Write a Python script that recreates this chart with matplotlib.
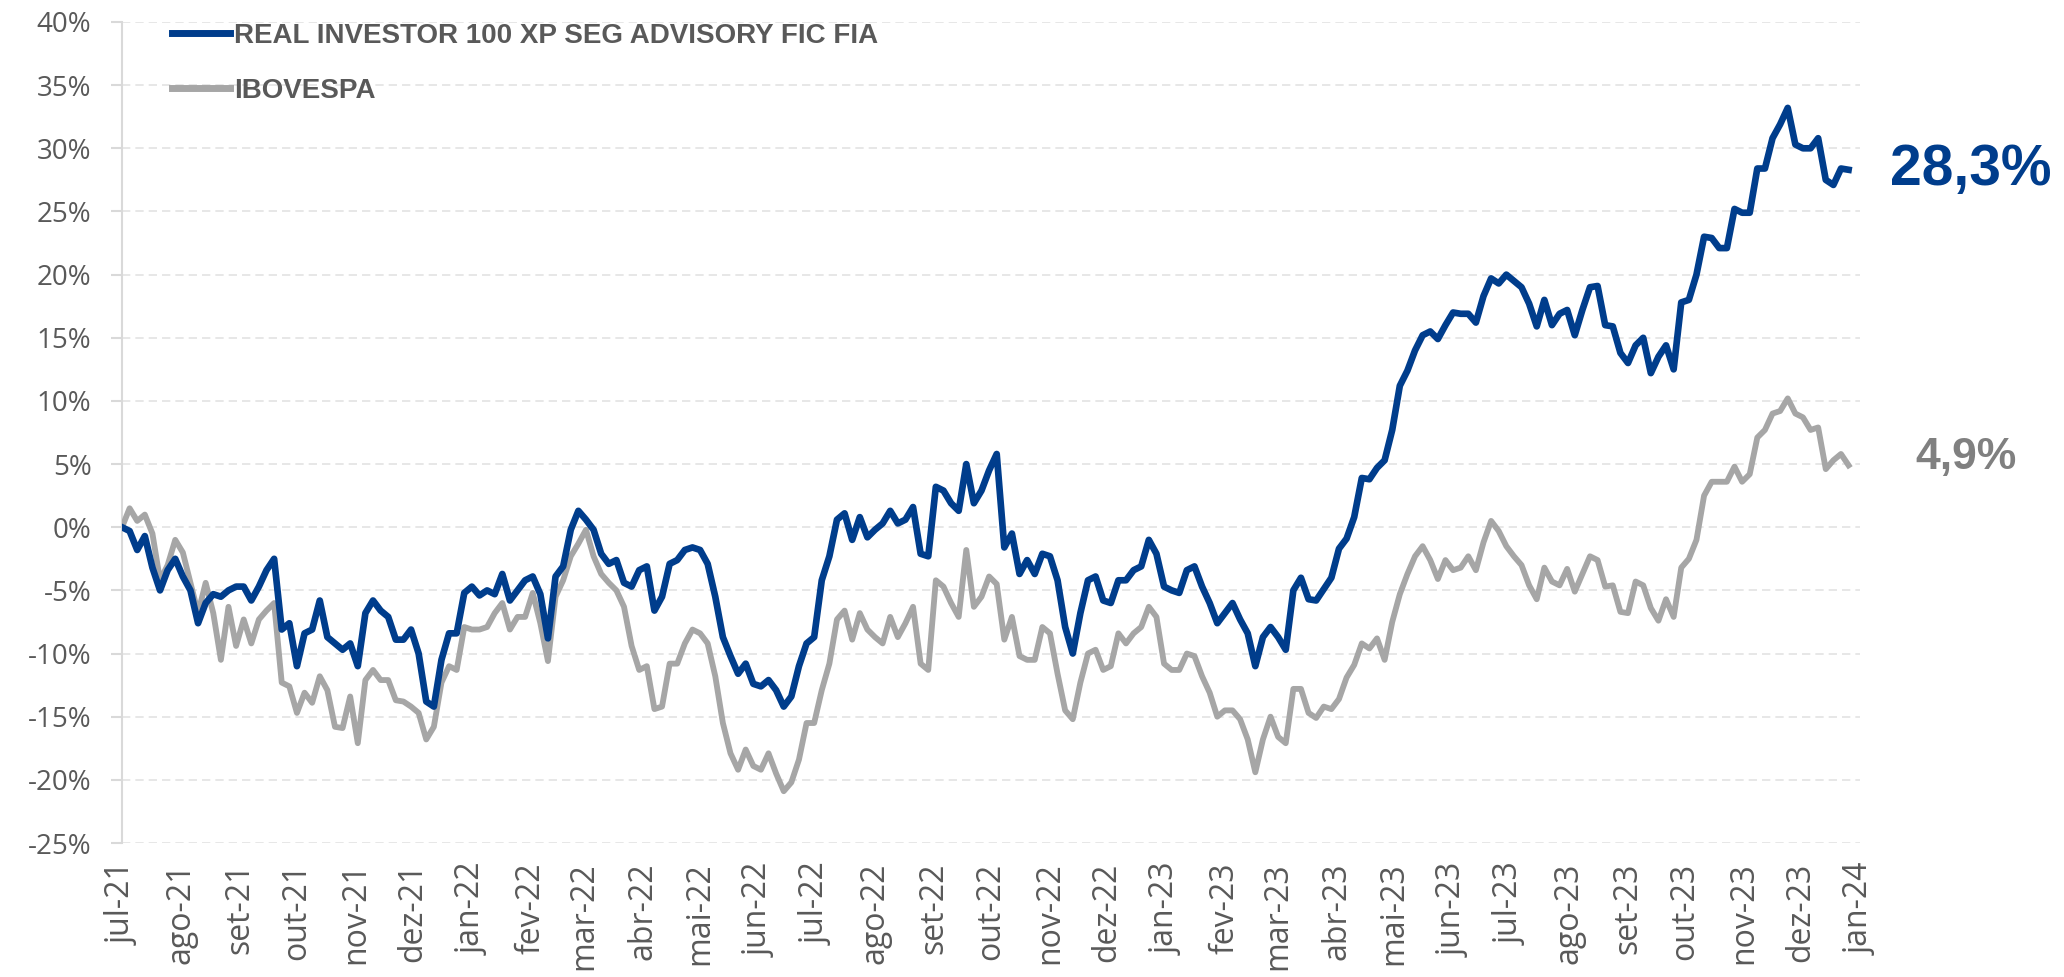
import pandas as pd
import matplotlib
matplotlib.use("Agg")
import matplotlib.pyplot as plt
from matplotlib.ticker import FuncFormatter

# returns, one point every 4 days from 01/07/2021 (in %)
fund = [0, -0.3, -1.8, -0.7, -3.2, -5, -3.4, -2.5, -3.9, -5,
        -7.6, -6, -5.3, -5.5, -5, -4.7, -4.7, -5.8, -4.7, -3.4,
        -2.5, -8.1, -7.6, -11, -8.4, -8.1, -5.8, -8.7, -9.2, -9.7,
        -9.2, -11, -6.8, -5.8, -6.6, -7.1, -8.9, -8.9, -8.1, -10,
        -13.8, -14.2, -10.5, -8.4, -8.4, -5.2, -4.7, -5.4, -5, -5.3,
        -3.7, -5.8, -5, -4.2, -3.9, -5.3, -8.8, -3.9, -3.1, -0.2,
        1.3, 0.6, -0.2, -2.1, -2.9, -2.6, -4.4, -4.7, -3.4, -3.1,
        -6.6, -5.5, -2.9, -2.6, -1.8, -1.6, -1.8, -2.9, -5.5, -8.7,
        -10.2, -11.6, -10.8, -12.4, -12.6, -12.1, -12.9, -14.2, -13.4, -11,
        -9.2, -8.7, -4.2, -2.3, 0.6, 1.1, -1, 0.8, -0.8, -0.2,
        0.3, 1.3, 0.3, 0.6, 1.6, -2.1, -2.3, 3.2, 2.9, 1.9,
        1.3, 5, 1.9, 2.9, 4.5, 5.8, -1.6, -0.5, -3.7, -2.6,
        -3.7, -2.1, -2.3, -4.2, -7.9, -10, -6.8, -4.2, -3.9, -5.8,
        -6, -4.2, -4.2, -3.4, -3.1, -1, -2.1, -4.7, -5, -5.2,
        -3.4, -3.1, -4.7, -6, -7.6, -6.8, -6, -7.3, -8.4, -11,
        -8.7, -7.9, -8.7, -9.7, -5, -4, -5.7, -5.8, -4.9, -4,
        -1.7, -0.9, 0.8, 3.9, 3.8, 4.7, 5.3, 7.7, 11.2, 12.4,
        14, 15.2, 15.5, 14.9, 16, 17, 16.9, 16.9, 16.2, 18.3,
        19.7, 19.3, 20, 19.5, 19, 17.7, 15.9, 18, 16, 16.9,
        17.2, 15.2, 17.2, 19, 19.1, 16, 15.9, 13.8, 13, 14.4,
        15, 12.2, 13.5, 14.4, 12.5, 17.8, 18, 20, 23, 22.9,
        22.1, 22.1, 25.2, 24.9, 24.9, 28.4, 28.4, 30.8, 31.9, 33.2,
        30.3, 30, 30, 30.8, 27.5, 27.1, 28.4, 28.3]

ibov = [0, 1.5, 0.5, 1, -0.5, -4.2, -3, -1, -2, -4.4,
        -6.8, -4.4, -6.8, -10.5, -6.3, -9.4, -7.3, -9.2, -7.3, -6.6,
        -6, -12.3, -12.6, -14.7, -13.1, -13.9, -11.8, -12.9, -15.8, -15.9,
        -13.4, -17.1, -12.1, -11.3, -12.1, -12.1, -13.7, -13.8, -14.2, -14.7,
        -16.8, -15.8, -12.3, -11, -11.3, -7.9, -8.1, -8.1, -7.9, -6.8,
        -6, -8.1, -7.1, -7.1, -5.2, -7.6, -10.6, -5.5, -4.2, -2.3,
        -1.3, -0.2, -2.3, -3.7, -4.4, -5, -6.3, -9.4, -11.3, -11,
        -14.4, -14.2, -10.8, -10.8, -9.2, -8.1, -8.4, -9.2, -11.8, -15.5,
        -17.9, -19.2, -17.6, -18.9, -19.2, -17.9, -19.5, -20.9, -20.2, -18.4,
        -15.5, -15.5, -12.9, -10.8, -7.3, -6.6, -8.9, -6.8, -8.1, -8.7,
        -9.2, -7.1, -8.7, -7.6, -6.3, -10.8, -11.3, -4.2, -4.7, -6,
        -7.1, -1.8, -6.3, -5.5, -3.9, -4.5, -8.9, -7.1, -10.2, -10.5,
        -10.5, -7.9, -8.4, -11.6, -14.5, -15.2, -12.3, -10, -9.7, -11.3,
        -11, -8.4, -9.2, -8.4, -7.9, -6.3, -7.1, -10.8, -11.3, -11.3,
        -10, -10.2, -11.8, -13.1, -15, -14.5, -14.5, -15.2, -16.8, -19.4,
        -16.8, -15, -16.6, -17.1, -12.8, -12.8, -14.7, -15.1, -14.2, -14.4,
        -13.6, -11.9, -10.9, -9.2, -9.6, -8.8, -10.5, -7.5, -5.3, -3.7,
        -2.3, -1.5, -2.6, -4.1, -2.6, -3.4, -3.2, -2.3, -3.4, -1.2,
        0.5, -0.3, -1.5, -2.3, -3, -4.6, -5.7, -3.2, -4.3, -4.6,
        -3.3, -5.1, -3.7, -2.3, -2.6, -4.7, -4.6, -6.7, -6.8, -4.3,
        -4.6, -6.4, -7.4, -5.7, -7.1, -3.2, -2.5, -1, 2.5, 3.6,
        3.6, 3.6, 4.8, 3.6, 4.2, 7.1, 7.7, 9, 9.2, 10.2,
        9, 8.7, 7.7, 7.9, 4.6, 5.3, 5.8, 4.9]

dates = pd.date_range("2021-07-01", periods=len(fund), freq="4D")

month_names = ["jul", "ago", "set", "out", "nov", "dez",
               "jan", "fev", "mar", "abr", "mai", "jun"]
tick_dates = pd.date_range("2021-07-01", "2024-01-01", freq="MS")
tick_labels = [month_names[(d.month - 7) % 12] + "-" + d.strftime("%y") for d in tick_dates]

fund_name = "REAL INVESTOR 100 XP SEG ADVISORY FIC FIA"
bench_name = "IBOVESPA"
fund_last = "28,3%"
bench_last = "4,9%"

BLUE = "#003D8C"
GRAY = "#A6A6A6"
TXT = "#595959"

fig = plt.figure(figsize=(20.64, 9.77), dpi=100)
ax = fig.add_axes([122 / 2064, 1 - 843 / 977, (1860 - 122) / 2064, (843 - 22) / 977])

ax.plot(dates, ibov, color=GRAY, lw=4.2, label=bench_name, zorder=3, solid_joinstyle="round")
ax.plot(dates, fund, color=BLUE, lw=4.8, label=fund_name, zorder=4, solid_joinstyle="round")

ax.set_ylim(-25, 40)
ax.set_yticks(range(-25, 41, 5))
ax.yaxis.set_major_formatter(FuncFormatter(lambda v, p: f"{v:.0f}%"))
ax.set_xlim(pd.Timestamp("2021-07-01"), pd.Timestamp("2024-01-01"))
ax.set_xticks(tick_dates)
ax.set_xticklabels(tick_labels, rotation=90, va="top", ha="center")

ax.grid(axis="y", color="#e3e3e3", lw=1.2, linestyle=(0, (5, 3)))
ax.set_axisbelow(True)
for s in ["top", "right", "bottom"]:
    ax.spines[s].set_visible(False)
ax.spines["left"].set_color("#d9d9d9")
ax.spines["left"].set_linewidth(1.5)

ax.tick_params(axis="y", length=8, width=1.5, color="#d9d9d9", pad=14, labelcolor=TXT)
ax.tick_params(axis="x", length=0, pad=14, labelcolor=TXT)
for lab in ax.get_yticklabels():
    lab.set_fontproperties(dict(family=["Open Sans", "DejaVu Sans"], size=20))
for lab in ax.get_xticklabels():
    lab.set_fontproperties(dict(family=["Open Sans", "DejaVu Sans"], size=23))

handles, labels = ax.get_legend_handles_labels()
leg = ax.legend(handles[::-1], labels[::-1], loc="upper left",
                bbox_to_anchor=(172 / 2064, 1 - 23 / 977), bbox_transform=fig.transFigure,
                frameon=False, borderpad=0, borderaxespad=0,
                handlelength=2.1, handletextpad=0.15, labelspacing=1.05,
                prop=dict(family=["Liberation Sans", "DejaVu Sans"], weight="bold", size=20))
for t in leg.get_texts():
    t.set_color(TXT)
for h in leg.get_lines():
    h.set_linewidth(5)

ax.text(1.0173, fund[-1], fund_last, transform=ax.get_yaxis_transform(),
        ha="left", va="center", color=BLUE, fontsize=41,
        family=["Liberation Sans", "DejaVu Sans"], weight="bold")
ax.text(1.0316, 5.5, bench_last, transform=ax.get_yaxis_transform(),
        ha="left", va="center", color="#808080", fontsize=32,
        family=["Liberation Sans", "DejaVu Sans"], weight="bold")

fig.savefig("out.png", dpi=100)
